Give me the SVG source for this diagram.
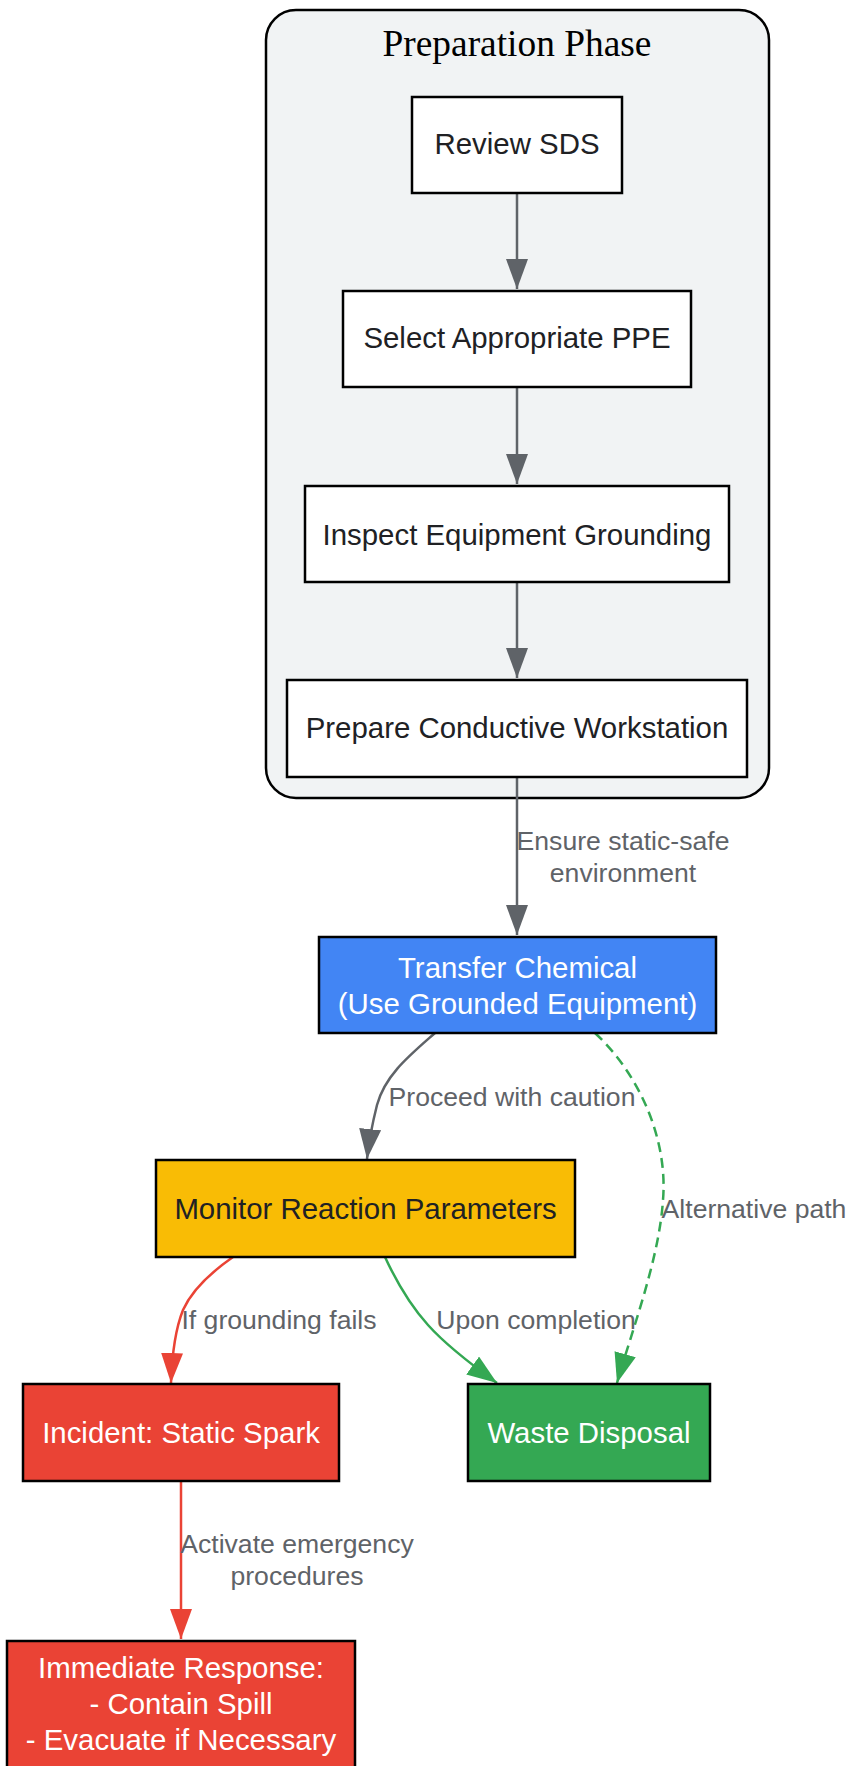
<svg xmlns="http://www.w3.org/2000/svg" width="850" height="1766" viewBox="0 0 850 1766">
<defs>
<style>
.node rect{stroke:#000;stroke-width:2.5}
.nt{font-family:"Liberation Sans",Arial,sans-serif;font-size:29.4px;text-anchor:middle}
.dark{fill:#202124}
.light{fill:#fff}
.el{font-family:"Liberation Sans",Arial,sans-serif;font-size:26.6px;text-anchor:middle;fill:#5f6368}
.e{fill:none;stroke-width:2.5}
.gray{stroke:#5f6368}
.red{stroke:#ea4335}
.green{stroke:#34a853}
</style>
<marker id="ag" viewBox="0 0 30 22" refX="30" refY="11" markerWidth="30" markerHeight="22" markerUnits="userSpaceOnUse" orient="auto"><path d="M0,0 L30,11 L0,22 z" fill="#5f6368"/></marker>
<marker id="ar" viewBox="0 0 30 22" refX="30" refY="11" markerWidth="30" markerHeight="22" markerUnits="userSpaceOnUse" orient="auto"><path d="M0,0 L30,11 L0,22 z" fill="#ea4335"/></marker>
<marker id="agr" viewBox="0 0 30 22" refX="30" refY="11" markerWidth="30" markerHeight="22" markerUnits="userSpaceOnUse" orient="auto"><path d="M0,0 L30,11 L0,22 z" fill="#34a853"/></marker>
</defs>
<rect width="850" height="1766" fill="#fff"/>
<g id="cluster-preparation">
<rect x="266" y="10" width="503" height="788" rx="30" ry="30" fill="#f1f3f4" stroke="#000" stroke-width="2.5"/>
<text x="517" y="56" font-family="'Liberation Serif','Times New Roman',serif" font-size="37.4" text-anchor="middle" fill="#000">Preparation Phase</text>
</g>
<g id="connectors">
<path class="e gray" d="M517,193 L517,289" marker-end="url(#ag)"/>
<path class="e gray" d="M517,388 L517,484" marker-end="url(#ag)"/>
<path class="e gray" d="M517,582 L517,678" marker-end="url(#ag)"/>
<path class="e gray" d="M517,777 L517,935" marker-end="url(#ag)"/>
<path class="e gray" d="M435,1033 C410,1055 385,1075 377,1105 C372,1125 369,1140 367,1159" marker-end="url(#ag)"/>
<path class="e green" stroke-dasharray="10 6" d="M595,1033 C640,1075 668,1140 663,1200 C659,1260 632,1330 617,1383" marker-end="url(#agr)"/>
<path class="e red" d="M233,1257 C210,1273 192,1290 183,1310 C175,1330 172,1355 171,1383" marker-end="url(#ar)"/>
<path class="e green" d="M385,1257 C397,1283 410,1305 428,1325 C445,1344 465,1360 497,1383" marker-end="url(#agr)"/>
<path class="e red" d="M181,1481 L181,1639" marker-end="url(#ar)"/>
<text class="el" x="623" y="850">Ensure static-safe</text>
<text class="el" x="623" y="882">environment</text>
<text class="el" x="512" y="1106">Proceed with caution</text>
<text class="el" x="754" y="1218">Alternative path</text>
<text class="el" x="279" y="1329">If grounding fails</text>
<text class="el" x="536" y="1329">Upon completion</text>
<text class="el" x="297" y="1553">Activate emergency</text>
<text class="el" x="297" y="1585">procedures</text>
</g>
<g id="review-sds" class="node">
<rect x="412" y="97" width="210" height="96" fill="#fff"/>
<text class="nt dark" x="517" y="154">Review SDS</text>
</g>
<g id="select-ppe" class="node">
<rect x="343" y="291" width="348" height="96" fill="#fff"/>
<text class="nt dark" x="517" y="348">Select Appropriate PPE</text>
</g>
<g id="inspect-grounding" class="node">
<rect x="305" y="486" width="424" height="96" fill="#fff"/>
<text class="nt dark" x="517" y="545">Inspect Equipment Grounding</text>
</g>
<g id="prepare-workstation" class="node">
<rect x="287" y="680" width="460" height="97" fill="#fff"/>
<text class="nt dark" x="517" y="738">Prepare Conductive Workstation</text>
</g>
<g id="transfer-chemical" class="node">
<rect x="319" y="937" width="397" height="96" fill="#4285f4"/>
<text class="nt light" x="517.5" y="978">Transfer Chemical</text>
<text class="nt light" x="517.5" y="1013.5">(Use Grounded Equipment)</text>
</g>
<g id="monitor-reaction" class="node">
<rect x="156" y="1160" width="419" height="97" fill="#f9bc05"/>
<text class="nt dark" x="365.5" y="1219">Monitor Reaction Parameters</text>
</g>
<g id="incident-spark" class="node">
<rect x="23" y="1384" width="316" height="97" fill="#ea4335"/>
<text class="nt light" x="181" y="1443">Incident: Static Spark</text>
</g>
<g id="waste-disposal" class="node">
<rect x="468" y="1384" width="242" height="97" fill="#34a853"/>
<text class="nt light" x="589" y="1443">Waste Disposal</text>
</g>
<g id="immediate-response" class="node">
<rect x="7" y="1641" width="348" height="140" fill="#ea4335"/>
<text class="nt light" x="181" y="1678">Immediate Response:</text>
<text class="nt light" x="181" y="1714">- Contain Spill</text>
<text class="nt light" x="181" y="1750">- Evacuate if Necessary</text>
</g>
</svg>
